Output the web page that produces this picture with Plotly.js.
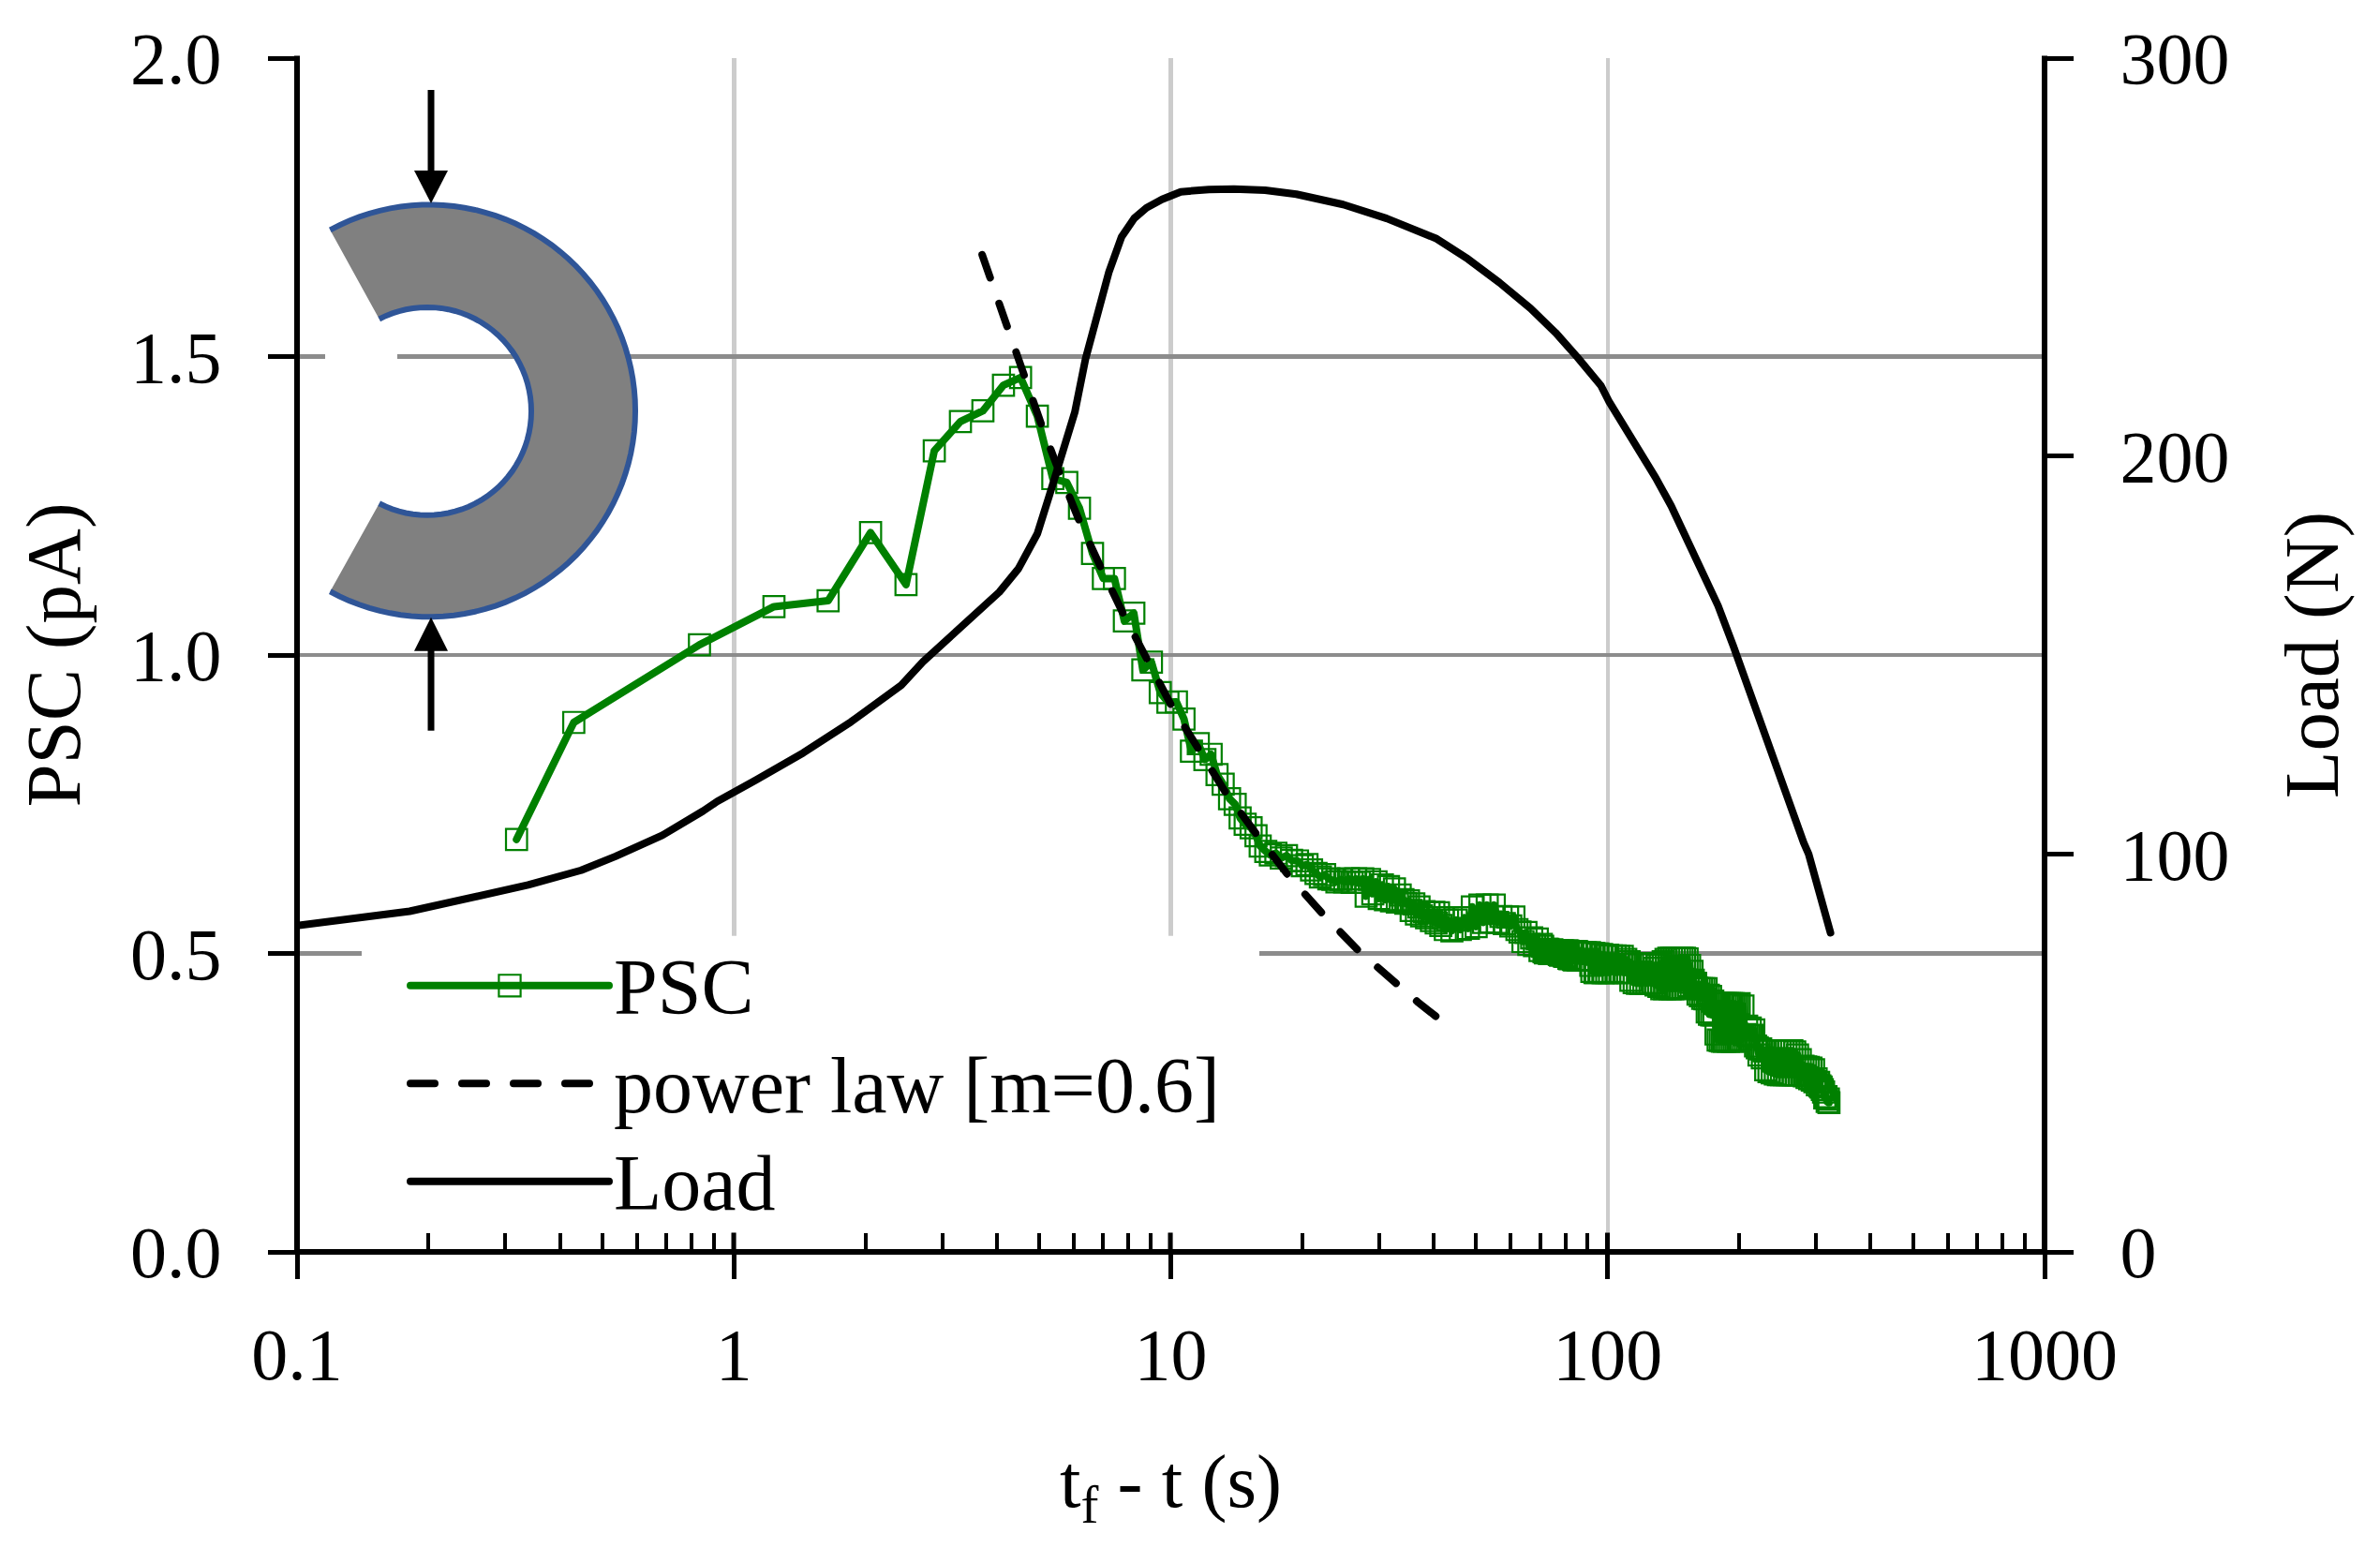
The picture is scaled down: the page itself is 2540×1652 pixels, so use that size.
<!DOCTYPE html>
<html><head><meta charset="utf-8">
<script src="https://cdn.plot.ly/plotly-3.0.1.min.js"></script>
<style>html,body{margin:0;padding:0;background:#fff}
.scatterlayer path.js-line,.legendlines path.js-line{stroke-linecap:round !important;stroke-linejoin:round !important}
.legendtext{font-size:84px !important}</style>
</head><body><div id="chart" style="width:2540px;height:1652px"></div>
<script>
const pscTime=[0.318,0.430,0.834,1.235,1.643,2.055,2.477,2.875,3.30,3.715,4.14,4.53,4.95,5.37,5.78,6.18,6.62,7.01,7.43,7.83,8.23,8.63,9.03,9.46,9.85,10.3,10.72,11.15,11.56,11.97,12.37,12.76,13.18,13.63,14.04,14.41,14.8,15.27,15.67,16.02,16.5,
16.9,17.4,17.9,18.4,18.9,19.5,20.0,20.5,21.0,21.5,22.0,22.5,23.0,23.5,24.0,24.5,25.0,25.5,26.0,26.5,27.0,27.5,28.0,28.5,29.0,29.5,30.0,30.5,31.0,31.5,32.0,32.5,33,33.5,34,34.5,35,35.5,36,36.5,37,37.5,38,38.5,39,39.5,40,40.5,41,41.5,42,42.5,43,44,45,46,47,48,49,50,51,52,53,54,55,56,57,58,59,60,61,62,63,64,65,66,67,68,69,
70,70.5,71,71.5,72,72.5,73,73.5,74,74.5,75,75.5,76,76.5,77,77.5,78,78.5,79,79.5,
80,80.5,81,81.5,82,82.5,83,83.5,84,84.5,85,85.5,86,86.5,87,87.5,88,88.5,89,89.5,
90,90.5,91,91.5,92,92.5,93,93.5,94,94.5,95,95.5,96,96.5,97,97.5,98,98.5,99,99.5,
100,101,102,103,104,105,106,107,108,109,
110,111,112,113,114,115,116,117,118,119,
120,121,122,123,124,125,126,127,128,129,
130,131,132,133,134,135,136,137,138,139,
140,141,142,143,144,145,146,147,148,149,
150,151,152,153,154,155,156,157,158,159,
160,161,162,163,164,165,166,167,168,169,
170,171,172,173,174,175,176,177,178,179,
180,181,182,183,184,185,186,187,188,189,
190,191,192,193,194,195,196,197,198,199,
200,202,204,206,208,210,212,214,216,218,
220,222,224,226,228,230,232,234,236,238,
240,242,244,246,248,250,252,254,256,258,
260,262,264,266,268,270,272,274,276,278,
280,282,284,286,288,290,292,294,296,298,
300,302,304,306,308,310,312,314,316,318,
320,321];
const pscValue=[0.691,0.887,1.017,1.081,1.091,1.205,1.118,1.342,1.391,1.409,1.452,1.465,1.400,1.2955,1.289,1.246,1.170,1.128,1.128,1.057,1.070,0.975,0.988,0.937,0.921,0.9215,0.8926,0.8388,0.8514,0.8247,0.8336,0.7996,0.7834,0.7593,0.7498,0.7269,0.7164,0.7106,0.6971,0.6798,0.6709,
.665,.668,.660,.664,.656,.655,.647,.649,.640,.634,.628,.632,.625,.624,.620,.624,.620,.625,.619,.625,.619,.625,.596,.624,.600,.620,.592,.615,.590,.612,.588,.608,.586,.598,.590,.584,.588,.572,.583,.566,.578,.563,.570,.560,.568,.555,.569,.551,.568,.547,.560,.540,.556,.538,.556,.540,.560,.542,.578,.545,.581,.552,.581,.553,.581,.552,.562,.550,.561,.546,.561,.540,.536,.520,.535,.515,.526,.513,.524,
.505,.515,.512,.503,.501,.507,.507,.500,.500,.506,.505,.500,.501,.505,.504,.498,.497,.504,.504,.496,
.495,.504,.504,.492,.491,.503,.503,.490,.489,.503,.503,.489,.489,.502,.502,.489,.489,.501,.501,.489,
.490,.501,.501,.480,.470,.500,.500,.468,.468,.499,.499,.469,.469,.498,.498,.468,.468,.497,.497,.468,
.497,.468,.496,.470,.496,.468,.495,.469,.495,.468,
.490,.468,.486,.455,.482,.451,.482,.450,.482,.450,
.482,.451,.482,.450,.482,.451,.482,.450,.475,.447,
.480,.445,.483,.441,.486,.441,.490,.442,.492,.441,
.492,.441,.492,.442,.492,.441,.492,.442,.492,.443,
.492,.443,.491,.446,.480,.452,.470,.455,.448,.450,
.442,.432,.441,.429,.441,.425,.441,.424,.441,.402,
.430,.398,.428,.397,.420,.397,.416,.365,.416,.355,
.416,.354,.416,.353,.416,.353,.416,.354,.416,.353,
.416,.354,.416,.353,.416,.353,.415,.354,.414,.354,
.416,.356,.412,.364,.378,.362,.375,.363,.372,.345,
.342,.330,.340,.325,.337,.305,.337,.302,.337,.300,
.337,.298,.337,.297,.337,.297,.337,.297,.337,.297,
.337,.297,.337,.297,.335,.297,.330,.297,.322,.297,
.311,.295,.310,.292,.309,.290,.308,.288,.305,.285,
.290,.280,.284,.278,.276,.272,.268,.258,.260,.252,
.256,.250];
const lawTime=[3.70,4.23,4.43,5.07,5.55,6.18,6.93,7.84,10.03,11.54,13.38,15.78,18.6,22.3,26.9,36.8,40.6];
const lawValue=[1.6706,1.5455,1.5038,1.3834,1.3076,1.2238,1.1453,1.0643,0.9153,0.842,0.7687,0.698,0.6301,0.5657,0.5045,0.4182,0.3936];
const loadTime=[0.1,0.181,0.338,0.447,0.536,0.686,0.85,0.916,1.12,1.441,1.854,2.10,2.416,2.708,3.07,3.57,4.05,4.48,4.95,5.28,5.50,6.03,6.38,6.82,7.22,7.71,8.24,8.80,9.55,10.54,11.3,12.23,13.95,16.44,19.38,24.8,31.2,40.6,47.9,56.5,66.6,76,85.3,96.5,100.6,118.6,128.7,139.7,151.7,164.8,178.9,194,221.5,252.6,281,288.4,307.8,323.6];
const loadValue=[82,85.6,92.2,95.9,99.4,104.7,110.8,113.2,118.5,125.4,133.2,137.6,142.4,148.3,153.7,160.5,165.8,171.7,180.5,190.3,196.9,211,224.4,236.2,246.3,255,259.7,262.4,264.5,266.4,266.8,267,267.1,266.8,265.8,263.2,259.7,254.6,249.5,243.6,237.1,231,224.8,217.7,213.8,201.2,194.6,187.5,178.9,170.2,162.4,152.2,134.1,116.9,102.8,100,88.6,80.2];
const xTickVals=[0.1,1,10,100,1000];
const xTickText=['0.1','1','10','100','1000'];
const xMinorVals=[0.2,0.3,0.4,0.5,0.6,0.7,0.8,0.9,2,3,4,5,6,7,8,9,20,30,40,50,60,70,80,90,200,300,400,500,600,700,800,900];

const L=317,R=2182,T=62,B=1336.5;
const px=x=>(x-L)/(R-L), py=y=>(B-y)/(B-T);
const poly=(pts,close)=>'M'+pts.map(p=>px(p[0]).toFixed(5)+','+py(p[1]).toFixed(5)).join('L')+(close?'Z':'');
const arc=(cx,cy,r,a0,a1,n)=>{const o=[];for(let i=0;i<=n;i++){const a=(a0+(a1-a0)*i/n)*Math.PI/180;o.push([cx+r*Math.cos(a),cy+r*Math.sin(a)]);}return o;};
const outer=arc(458,438.5,220,-118.7,118.7,80), inner=arc(456,439,111,117.5,-117.5,60);
const blue='#2f5597';
const sh=(path,o)=>Object.assign({type:'path',xref:'paper',yref:'paper',path:path,line:{width:0},layer:'above'},o);
const blackLine=w=>({line:{color:'#000',width:w}});
const shapes=[
 sh(poly([[386,999],[1344,999],[1344,1316],[386,1316]],true),{fillcolor:'#fff'}),
 sh(poly([[347,238],[405,341],[424,378],[424,384],[405,537],[347,640]],true),{fillcolor:'#fff'}),
 sh(poly(outer.concat(inner),true),{fillcolor:'#808080'}),
 sh(poly(outer),{line:{color:blue,width:6}}),
 sh(poly(inner),{line:{color:blue,width:6}}),
 sh(poly([[460,96],[460,185]]),blackLine(7)),
 sh(poly([[442,182],[478,182],[460,217]],true),{fillcolor:'#000'}),
 sh(poly([[460,692],[460,780]]),blackLine(7)),
 sh(poly([[442,695],[478,695],[460,659]],true),{fillcolor:'#000'}),
 sh(poly([[783,1316],[783,1337]]),blackLine(5)),
 sh(poly([[1249,1316],[1249,1337]]),blackLine(5)),
 sh(poly([[1715.5,1316],[1715.5,1337]]),blackLine(5)),
 sh(poly([[L,59.5],[L,1339.5]]),blackLine(6)),
 sh(poly([[R,59.5],[R,1339.5]]),blackLine(6)),
 sh(poly([[L-3,B],[R+3,B]]),blackLine(6))
];
const green='#008000',fontFam='"Liberation Serif",serif';
const data=[
 {name:'PSC',x:pscTime,y:pscValue,mode:'lines+markers',type:'scatter',line:{color:green,width:8},marker:{symbol:'square-open',size:22.5,color:green,line:{color:green,width:2.2}}},
 {name:'power law [m=0.6]',x:lawTime,y:lawValue,mode:'lines',type:'scatter',line:{color:'#000',width:8,dash:'26px,29px'}},
 {name:'Load',x:loadTime,y:loadValue,mode:'lines',type:'scatter',yaxis:'y2',line:{color:'#000',width:8}}
];
const layout={
 width:2540,height:1652,margin:{l:L,r:2540-R,t:T,b:1652-B,pad:0},
 paper_bgcolor:'#fff',plot_bgcolor:'#fff',font:{family:fontFam,size:78,color:'#000'},
 xaxis:{type:'log',range:[-1,3],tickmode:'array',tickvals:xTickVals,ticktext:xTickText,ticks:'outside',ticklen:28,tickwidth:5,tickcolor:'#000',
  showline:false,showgrid:true,gridcolor:'#cccccc',gridwidth:4.5,zeroline:false,ticklabelstandoff:13,tickfont:{size:78},
  minor:{tickmode:'array',tickvals:xMinorVals,ticks:'inside',ticklen:20,tickwidth:4,tickcolor:'#000',showgrid:false},
  title:{text:'t<sub>f</sub> - t (s)',font:{size:81},standoff:63}},
 yaxis:{range:[0,2],dtick:0.5,tick0:0,tickformat:'.1f',ticks:'outside',ticklen:30,tickwidth:5,tickcolor:'#000',showline:false,
  showgrid:true,gridcolor:'#8c8c8c',gridwidth:4.5,zeroline:false,ticklabelstandoff:34,title:{text:'PSC (pA)',font:{size:83},standoff:25}},
 yaxis2:{overlaying:'y',side:'right',range:[0,300],dtick:100,tick0:0,ticks:'outside',ticklen:30,tickwidth:5,tickcolor:'#000',showline:false,
  showgrid:false,zeroline:false,ticklabelstandoff:34,title:{text:'Load (N)',font:{size:83},standoff:58}},
 legend:{x:(433-L)/(R-L),xanchor:'left',y:(B-995)/(B-T),yanchor:'top',bgcolor:'rgba(0,0,0,0)',borderwidth:0,font:{size:78},itemwidth:212,traceorder:'normal'},
 shapes:shapes,showlegend:true
};
Plotly.newPlot('chart',data,layout,{displayModeBar:false,staticPlot:true}).then(gd=>{
 gd.querySelectorAll('.legendpoints path.scatterpts').forEach(p=>{
  p.setAttribute('transform',(p.getAttribute('transform')||'')+' scale(1.45)');
  p.style.strokeWidth='1.5px';
 });
});
</script></body></html>
